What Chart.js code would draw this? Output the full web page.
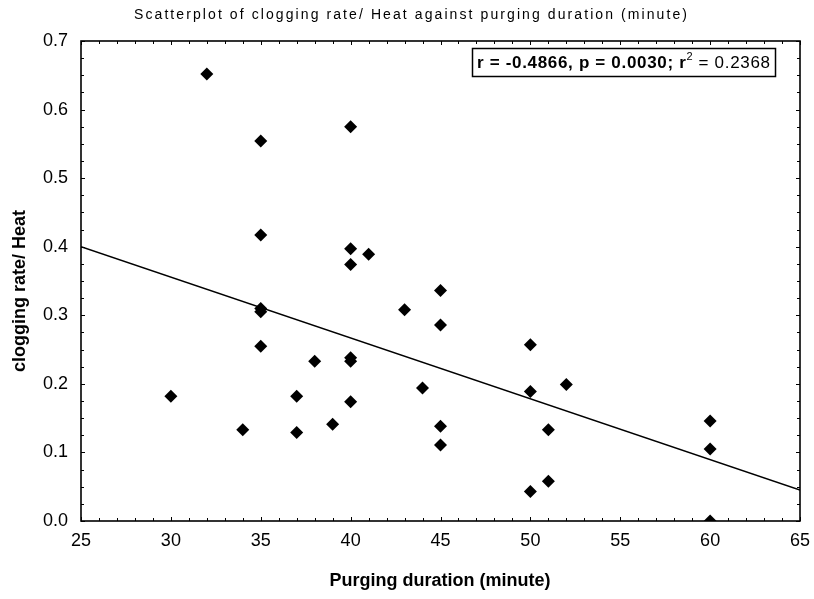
<!DOCTYPE html>
<html>
<head>
<meta charset="utf-8">
<script src="https://cdn.jsdelivr.net/npm/chart.js@4.4.1/dist/chart.umd.min.js"></script>
<style>
  body { margin: 0; background: #fff; }
  canvas { display: block; }
</style>
</head>
<body>
<canvas id="grafico" width="814" height="599"></canvas>
<script>
// dados
const duracao = [32, 35, 35, 35, 35, 35, 40, 40, 40, 40, 40, 40, 41, 30, 34, 37, 37, 38, 39, 43, 44, 45, 45, 45, 45, 50, 50, 50, 51, 51, 52, 60, 60, 60];
const taxaEntupimento = [0.652, 0.554, 0.417, 0.310, 0.305, 0.255, 0.575, 0.397, 0.374, 0.238, 0.233, 0.174, 0.389, 0.182, 0.133, 0.182, 0.129, 0.233, 0.141, 0.308, 0.194, 0.336, 0.286, 0.138, 0.111, 0.257, 0.189, 0.043, 0.133, 0.058, 0.199, 0.146, 0.105, 0.0];
const retaX = [25, 65];
const retaY = [0.400, 0.045];
const ticksX = [25, 30, 35, 40, 45, 50, 55, 60, 65];
const ticksY = [0.0, 0.1, 0.2, 0.3, 0.4, 0.5, 0.6, 0.7];

const titulo = 'Scatterplot of clogging rate/ Heat against purging duration (minute)';
const tituloX = 'Purging duration (minute)';
const tituloY = 'clogging rate/ Heat';

const fonte = "'Liberation Sans', Arial, sans-serif";

// moldura, marcas internas e textos
const molduraPlugin = {
    id: 'moldura',
    afterDraw(chart) {
        const ctx = chart.ctx;
        const area = chart.chartArea;
        const sx = chart.scales.x;
        const sy = chart.scales.y;
        ctx.save();
        ctx.strokeStyle = '#000';
        ctx.lineWidth = 1;
        for (let v = 25; v <= 65; v++) {
            const px = Math.round(sx.getPixelForValue(v)) + 0.5;
            const len = v % 5 === 0 ? 4 : 3;
            ctx.beginPath();
            ctx.moveTo(px, area.bottom); ctx.lineTo(px, area.bottom - len);
            ctx.moveTo(px, area.top); ctx.lineTo(px, area.top + len);
            ctx.stroke();
        }
        for (let i = 0; i <= 28; i++) {
            const py = Math.round(sy.getPixelForValue(i * 0.025)) + 0.5;
            const len = i % 4 === 0 ? 4 : 3;
            ctx.beginPath();
            ctx.moveTo(area.left, py); ctx.lineTo(area.left + len, py);
            ctx.moveTo(area.right, py); ctx.lineTo(area.right - len, py);
            ctx.stroke();
        }
        ctx.lineWidth = 1.6;
        ctx.strokeRect(area.left, area.top, area.right - area.left, area.bottom - area.top);

        // título
        ctx.fillStyle = '#000';
        ctx.font = '14px ' + fonte;
        ctx.textBaseline = 'middle';
        ctx.textAlign = 'left';
        let w = ctx.measureText(titulo).width;
        ctx.letterSpacing = ((553 - w) / (titulo.length - 1)) + 'px';
        ctx.fillText(titulo, 134, 15);
        ctx.letterSpacing = '0px';

        // eixos
        ctx.font = 'bold 18px ' + fonte;
        ctx.textAlign = 'center';
        ctx.fillText(tituloX, 440, 581);
        ctx.save();
        ctx.translate(20, 291);
        ctx.rotate(-Math.PI / 2);
        ctx.fillText(tituloY, 0, 0);
        ctx.restore();

        // caixa de estatística
        ctx.lineWidth = 1.5;
        ctx.strokeRect(472.5, 48.5, 303, 28);
        ctx.textAlign = 'left';
        const parte1 = 'r = -0.4866, p = 0.0030; r';
        const parte2 = ' = 0.2368';
        ctx.font = 'bold 17px ' + fonte;
        let w1 = ctx.measureText(parte1).width;
        ctx.font = '11px ' + fonte;
        let w2 = ctx.measureText('2').width;
        ctx.font = '17px ' + fonte;
        let w3 = ctx.measureText(parte2).width;
        const esp = (293 - (w1 + w2 + w3)) / (parte1.length + parte2.length);
        ctx.letterSpacing = esp + 'px';
        let x = 477;
        const yb = 63;
        ctx.font = 'bold 17px ' + fonte;
        ctx.fillText(parte1, x, yb);
        x += ctx.measureText(parte1).width;
        ctx.font = '11px ' + fonte;
        ctx.fillText('2', x, yb - 6);
        x += ctx.measureText('2').width;
        ctx.font = '17px ' + fonte;
        ctx.fillText(parte2, x, yb);
        ctx.restore();
    }
};

const ctx = document.getElementById('grafico').getContext('2d');
new Chart(ctx, {
    type: 'scatter',
    data: {
        datasets: [{
            label: 'dados',
            data: duracao.map((d, i) => ({ x: d, y: taxaEntupimento[i] })),
            pointStyle: 'rectRot',
            pointRadius: 6.5,
            pointHoverRadius: 6.5,
            backgroundColor: '#000',
            borderColor: '#000',
            borderWidth: 0,
            clip: 0
        }, {
            label: 'reta',
            data: retaX.map((d, i) => ({ x: d, y: retaY[i] })),
            showLine: true,
            pointRadius: 0,
            borderColor: '#000',
            borderWidth: 1.5,
            clip: 0
        }]
    },
    options: {
        responsive: false,
        animation: false,
        layout: { padding: { top: 41, right: 14, left: 0, bottom: 0 } },
        plugins: {
            legend: { display: false },
            tooltip: { enabled: false },
            title: { display: false }
        },
        scales: {
            x: {
                type: 'linear',
                min: 25,
                max: 65,
                afterFit: s => { s.height = 78; s.paddingLeft = 0; s.paddingRight = 0; },
                afterBuildTicks: s => { s.ticks = ticksX.map(v => ({ value: v })); },
                grid: { display: false, drawTicks: false },
                border: { display: false },
                ticks: {
                    padding: 9,
                    color: '#000',
                    font: { family: fonte, size: 18 },
                    callback: v => String(v)
                }
            },
            y: {
                type: 'linear',
                min: 0,
                max: 0.7,
                afterFit: s => { s.width = 81; },
                afterBuildTicks: s => { s.ticks = ticksY.map(v => ({ value: v })); },
                grid: { display: false, drawTicks: false },
                border: { display: false },
                ticks: {
                    padding: 13,
                    color: '#000',
                    font: { family: fonte, size: 18 },
                    callback: v => Number(v).toFixed(1)
                }
            }
        }
    },
    plugins: [molduraPlugin]
});
</script>
</body>
</html>
